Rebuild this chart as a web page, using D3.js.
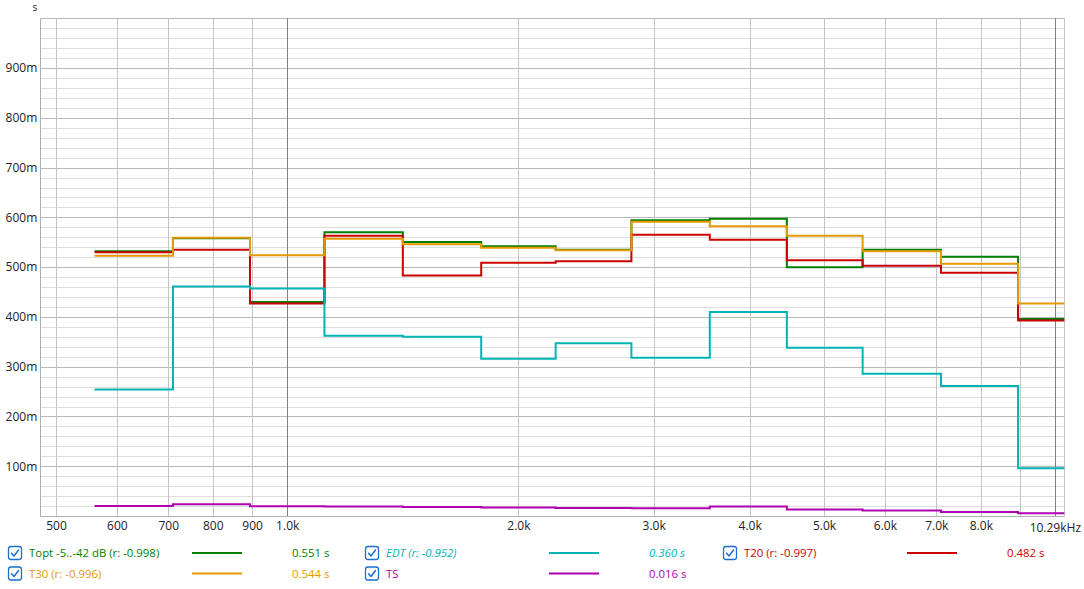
<!DOCTYPE html>
<html><head><meta charset="utf-8">
<script src="https://cdn.jsdelivr.net/npm/d3@7"></script>
<style>
html,body{margin:0;padding:0;background:#fff;}
svg{display:block;font-family:"Open Sans","Noto Sans",sans-serif;}
</style></head>
<body><svg id="c" width="1084" height="589"></svg>
<script>
// third-octave band centres (Hz)
const bands = [630, 800, 1000, 1250, 1600, 2000, 2500, 3150, 4000, 5000, 6300, 8000, 10000];
const topt = [0.532, 0.558, 0.430, 0.570, 0.5505, 0.542, 0.535, 0.594, 0.597, 0.500, 0.535, 0.521, 0.396];
const t30  = [0.523, 0.559, 0.524, 0.557, 0.546, 0.539, 0.534, 0.591, 0.582, 0.563, 0.532, 0.507, 0.427];
const t20  = [0.530, 0.535, 0.427, 0.563, 0.483, 0.509, 0.512, 0.565, 0.555, 0.514, 0.503, 0.489, 0.393];
const edt  = [0.254, 0.461, 0.457, 0.362, 0.360, 0.316, 0.347, 0.318, 0.410, 0.338, 0.286, 0.261, 0.096];
const ts   = [0.020, 0.0235, 0.0195, 0.019, 0.018, 0.017, 0.016, 0.0155, 0.019, 0.013, 0.011, 0.008, 0.0055];

const yTicks = [0.1, 0.2, 0.3, 0.4, 0.5, 0.6, 0.7, 0.8, 0.9];
const yTickLabels = ["100m", "200m", "300m", "400m", "500m", "600m", "700m", "800m", "900m"];
const xTicks = [500, 600, 700, 800, 900, 1000, 2000, 3000, 4000, 5000, 6000, 7000, 8000];
const xTickLabels = ["500", "600", "700", "800", "900", "1.0k", "2.0k", "3.0k", "4.0k", "5.0k", "6.0k", "7.0k", "8.0k"];
const xGrid = [500, 600, 700, 800, 900, 1000, 2000, 3000, 4000, 5000, 6000, 7000, 8000, 9000, 10000];
const xDark = [1000, 10000];
const endLabel = "10.29kHz";

const legendNames = ["Topt -5..-42 dB (r: -0.998)", "EDT (r: -0.952)", "T20 (r: -0.997)", "T30 (r: -0.996)", "TS"];
const legendValues = ["0.551 s", "0.360 s", "0.482 s", "0.544 s", "0.016 s"];

const series = [
  {name: legendNames[0], vals: topt, color: "#007f00", value: legendValues[0], col: 0, row: 0, italic: false, order: 0},
  {name: legendNames[1], vals: edt,  color: "#00b4b4", value: legendValues[1], col: 1, row: 0, italic: true, order: 2},
  {name: legendNames[2], vals: t20,  color: "#cc0000", value: legendValues[2], col: 2, row: 0, italic: false, order: 1},
  {name: legendNames[3], vals: t30,  color: "#e69900", value: legendValues[3], col: 0, row: 1, italic: false, order: 3},
  {name: legendNames[4], vals: ts,   color: "#b000b0", value: legendValues[4], col: 1, row: 1, italic: false, order: 4}
];

const svg = d3.select("#c");
svg.append("rect").attr("width", 1084).attr("height", 589).attr("fill", "#fff");

const L = 40.3, R = 1064.3, T = 18.3, B = 516;
const x = d3.scaleLog().domain([477.0, 10274]).range([L, R]);
const y = d3.scaleLinear().domain([0, 1.0]).range([B, T]);

const g = svg.append("g");
// horizontal grid
const hLines = d3.range(0, 51).map(i => i / 50);
g.selectAll("line.h").data(hLines).enter().append("line")
  .attr("x1", L).attr("x2", R)
  .attr("y1", d => Math.round(y(d)) + 0.5).attr("y2", d => Math.round(y(d)) + 0.5)
  .attr("stroke", (d, i) => i % 5 === 0 ? "#b8b8b8" : "#dedede").attr("stroke-width", 1);
// vertical grid
g.selectAll("line.v").data(xGrid).enter().append("line")
  .attr("y1", T).attr("y2", B)
  .attr("x1", d => Math.round(x(d)) + 0.5).attr("x2", d => Math.round(x(d)) + 0.5)
  .attr("stroke", d => xDark.includes(d) ? "#808080" : "#c4c4c4").attr("stroke-width", 1);
// borders
g.append("line").attr("x1", Math.round(L) + 0.5).attr("x2", Math.round(L) + 0.5).attr("y1", T).attr("y2", B + 0.5).attr("stroke", "#b0b0b0");
g.append("line").attr("x1", Math.round(R) + 0.5).attr("x2", Math.round(R) + 0.5).attr("y1", T).attr("y2", B + 0.5).attr("stroke", "#c4c4c4");
g.append("line").attr("x1", L).attr("x2", R).attr("y1", B + 0.5).attr("y2", B + 0.5).attr("stroke", "#b0b0b0");

// y axis labels
const yAxis = d3.axisLeft(y).tickValues(yTicks).tickFormat((d, i) => yTickLabels[i]).tickSize(0).tickPadding(3);
const ya = svg.append("g").attr("transform", `translate(${L},0)`).call(yAxis);
ya.select(".domain").remove();
ya.selectAll("text").attr("font-size", 12).attr("fill", "#222").attr("font-family", "\"Open Sans\",\"Noto Sans\",sans-serif");
svg.append("text").attr("x", 35).attr("y", 11).attr("font-size", 10).attr("fill", "#222").attr("text-anchor", "middle").text("s");

// x axis labels
const xAxis = d3.axisBottom(x).tickValues(xTicks).tickFormat((d, i) => xTickLabels[i]).tickSize(0).tickPadding(5);
const xa = svg.append("g").attr("transform", `translate(0,${B})`).call(xAxis);
xa.select(".domain").remove();
xa.selectAll("text").attr("font-size", 12).attr("fill", "#222").attr("font-family", "\"Open Sans\",\"Noto Sans\",sans-serif");
svg.append("text").attr("x", 1081).attr("y", 532).attr("font-size", 12).attr("fill", "#222").attr("text-anchor", "end").text(endLabel);

// step lines
svg.append("clipPath").attr("id", "clip").append("rect").attr("x", L).attr("y", T - 2).attr("width", R - L).attr("height", B - T + 4);
// shared band edges: geometric mean between adjacent centres
const edges = bands.map((f, i) => i === 0 ? f / Math.pow(2, 1 / 6) : Math.sqrt(bands[i - 1] * f));
edges.push(bands[bands.length - 1] * Math.pow(2, 1 / 6));
function stepPoints(vals) {
  const pts = [];
  vals.forEach((v, i) => {
    pts.push([x(edges[i]), y(v)]);
    pts.push([x(edges[i + 1]), y(v)]);
  });
  return pts;
}
const line = d3.line();
const sorted = series.slice().sort((a, b) => a.order - b.order);
svg.append("g").attr("clip-path", "url(#clip)").selectAll("path").data(sorted).enter().append("path")
  .attr("d", d => line(stepPoints(d.vals)))
  .attr("fill", "none").attr("stroke", d => d.color).attr("stroke-width", 2).attr("stroke-linejoin", "miter");

// legend
const colX = [8, 365, 723];
const rowY = [553, 573.5];
const lg = svg.append("g").attr("font-size", 11.4);
series.forEach(s => {
  const cx = colX[s.col], cy = rowY[s.row];
  lg.append("rect").attr("x", cx + 0.5).attr("y", cy - 6.5).attr("width", 13).attr("height", 13).attr("rx", 2.5)
    .attr("fill", "#fff").attr("stroke", "#1a6fd0").attr("stroke-width", 1.3);
  lg.append("path").attr("d", `M${cx + 3.5},${cy + 0.3} L${cx + 6},${cy + 3} L${cx + 10.5},${cy - 3}`)
    .attr("fill", "none").attr("stroke", "#1a6fd0").attr("stroke-width", 1.5).attr("stroke-linecap", "round").attr("stroke-linejoin", "round");
  lg.append("text").attr("x", cx + 21).attr("y", cy + 4.2).attr("fill", s.color)
    .attr("font-style", s.italic ? "italic" : "normal").text(s.name);
  lg.append("line").attr("x1", cx + 184).attr("x2", cx + 234).attr("y1", cy).attr("y2", cy)
    .attr("stroke", s.color).attr("stroke-width", 2);
  lg.append("text").attr("x", cx + 284).attr("y", cy + 4.2).attr("fill", s.color)
    .attr("font-style", s.italic ? "italic" : "normal").text(s.value);
});
</script></body></html>
